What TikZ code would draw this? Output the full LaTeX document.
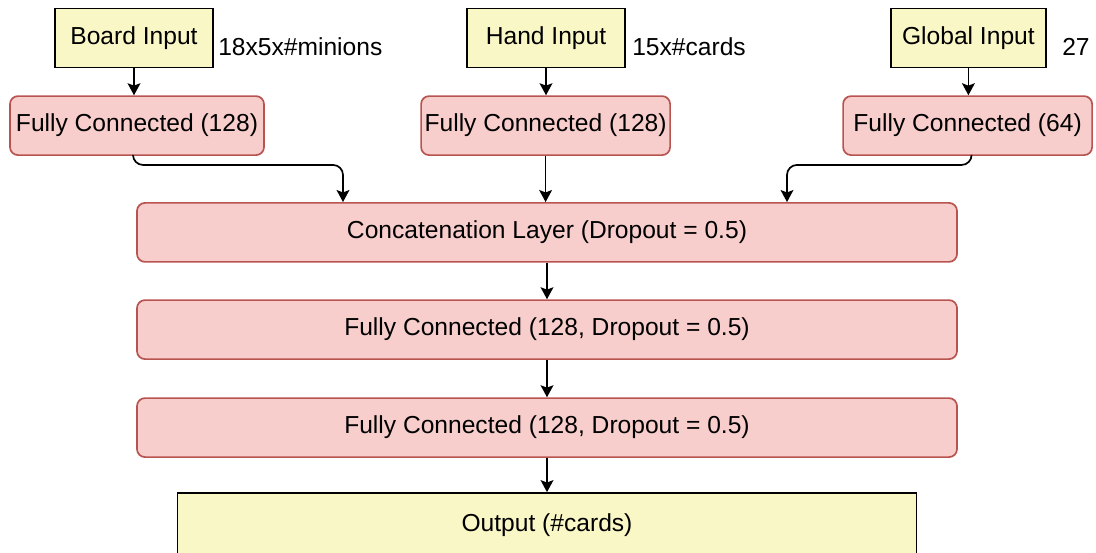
\documentclass[tikz,border=0pt]{standalone}
\usepackage{fontspec}
\setmainfont{Liberation Sans}
\usetikzlibrary{arrows.meta}
\definecolor{inyellow}{RGB}{250,247,198}
\definecolor{fcpink}{RGB}{248,206,204}
\definecolor{fcborder}{RGB}{184,84,80}

\begin{document}
\begin{tikzpicture}[
		font=\fontsize{17.5}{21}\selectfont,
		inbox/.style={draw=black, fill=inyellow, line width=1.2pt, minimum height=1.475cm, inner sep=0pt},
		fcbox/.style={draw=fcborder, fill=fcpink, line width=1.2pt, rounded corners=0.2cm, minimum height=1.475cm, inner sep=0pt},
		conn/.style={line width=1.2pt, -{Stealth[length=0.3cm, width=0.32cm, inset=0.06cm]}}]
				\clip (0, 0) rectangle (27.4, -13.8);
				\node[inbox, minimum width=3.95cm] (BI)at(3.35, -0.95) {Board Input};
				\node[inbox, minimum width=3.95cm] (HI)at(13.65, -0.95) {Hand Input};
				\node[inbox, minimum width=3.875cm] (GI)at(24.21, -0.95) {Global Input};
				\node[anchor=west, inner sep=0pt] (BS)at(5.45, -1.18) {18x5x\#minions};
				\node[anchor=west, inner sep=0pt] (HS)at(15.8, -1.18) {15x\#cards};
				\node[anchor=west, inner sep=0pt] (GS)at(26.55, -1.18) {27};
				\node[fcbox, minimum width=6.35cm] (FB)at(3.425, -3.14) {Fully Connected (128)};
				\node[fcbox, minimum width=6.225cm] (FH)at(13.64, -3.14) {Fully Connected (128)};
				\node[fcbox, minimum width=6.225cm] (FG)at(24.19, -3.14) {Fully Connected (64)};
				\node[fcbox, minimum width=20.5cm] (C)at(13.675, -5.81) {Concatenation Layer (Dropout = 0.5)};
				\node[fcbox, minimum width=20.5cm] (F1)at(13.675, -8.24) {Fully Connected (128, Dropout = 0.5)};
				\node[fcbox, minimum width=20.5cm] (F2)at(13.675, -10.69) {Fully Connected (128, Dropout = 0.5)};
				\node[inbox, minimum width=18.475cm, minimum height=1.6cm] (O)at(13.675, -13.125) {Output (\#cards)};
				\draw[conn] (BI.south) -- (BI.south |- FB.north);
				\draw[conn] (HI.south) -- (HI.south |- FH.north);
				\draw[conn] (GI.south) -- (GI.south |- FG.north);
				\draw[conn, rounded corners=0.25cm] ([xshift=-0.1cm]FB.south) -- ++(0, -0.225) -| ([xshift=-5.1cm]C.north);
				\draw[conn] (FH.south) -- (FH.south |- C.north);
				\draw[conn, rounded corners=0.25cm] ([xshift=0.1cm]FG.south) -- ++(0, -0.225) -| ([xshift=6cm]C.north);
				\draw[conn] (C) -- (F1);
				\draw[conn] (F1) -- (F2);
				\draw[conn] (F2) -- (O);
			\end{tikzpicture}
\end{document}
